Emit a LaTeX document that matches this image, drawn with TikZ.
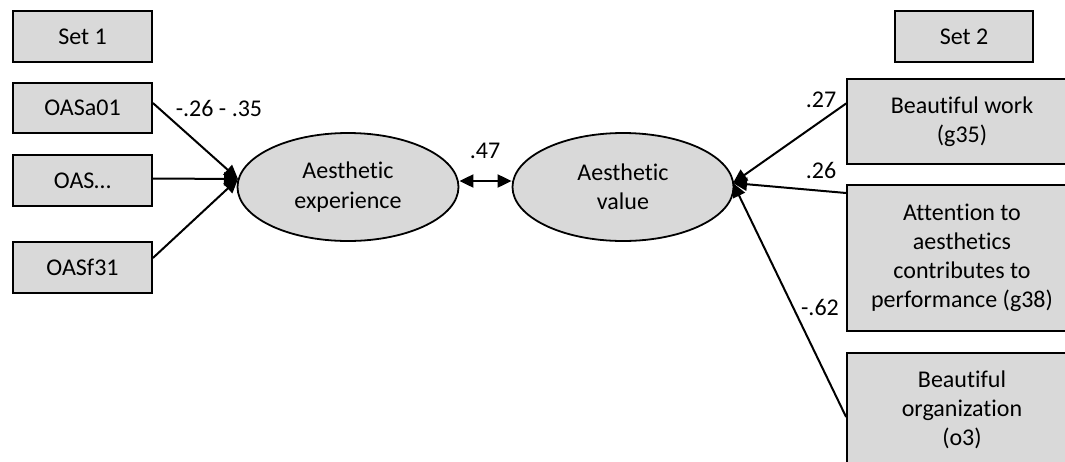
\documentclass[tikz,border=0pt]{standalone}
\usepackage{fontspec}
\setmainfont{Carlito}[RawFeature=-liga]
\usetikzlibrary{shapes.geometric,arrows.meta}
\definecolor{boxgray}{HTML}{D9D9D9}
\begin{document}
\begin{tikzpicture}[x=0.5pt,y=-0.5pt,
  every node/.style={font=\fontsize{12}{14.6}\selectfont, inner sep=0pt},
  varbox/.style={draw, line width=0.9pt, fill=boxgray, rectangle, align=center, minimum width=69.5pt},
  rbox/.style={draw, line width=0.9pt, fill=boxgray, rectangle, align=center, minimum width=115pt},
  latent/.style={draw, line width=0.9pt, fill=boxgray, ellipse, align=center, minimum width=110.5pt, minimum height=54pt},
  conn/.style={line width=1pt, -{Triangle[length=7pt,width=6.5pt]}},
  biconn/.style={line width=1pt, {Triangle[length=7pt,width=6.5pt]}-{Triangle[length=7pt,width=6.5pt]}},
  lbl/.style={font=\fontsize{12}{14.6}\selectfont}
]
\useasboundingbox (0,0) rectangle (1065,461);
\clip (0,0) rectangle (1065,461);

% left side
\node[varbox, minimum height=25.5pt] (set1) at (82.5,36.5) {Set 1};
\node[varbox, minimum height=25pt] (oasa) at (82.5,108) {OASa01};
\node[varbox, minimum height=25.5pt] (oasm) at (82.5,180.5) {OAS…};
\node[varbox, minimum height=25.5pt] (oasf) at (82.5,267.5) {OASf31};

% latent variables
\node[latent] (ae) at (348,187) {Aesthetic\\experience};
\node[latent] (av) at (623,187) {Aesthetic\\value};

% right side
\node[varbox, minimum width=69pt, minimum height=25.5pt] (set2) at (964,36.5) {Set 2};
\node[rbox, minimum height=42.5pt] (bw) at (962,121.5) {Beautiful work\\(g35)};
\node[rbox, minimum height=73pt] (att) at (962,258) {Attention to\\aesthetics\\contributes to\\performance (g38)};
\node[rbox, minimum height=57pt] (org) at (962,410) {Beautiful\\organization\\(o3)};

% connector endpoints
\coordinate (tipL) at (238,179);
\coordinate (tipR) at (733,183);

\draw[conn] ([yshift=2.5pt]oasa.east) -- (tipL);
\draw[conn] ([yshift=1pt]oasm.east) -- (tipL);
\draw[conn] ([yshift=4.75pt]oasf.east) -- (tipL);

\draw[conn] ([yshift=9pt]bw.west) -- (tipR);
\draw[conn] ([yshift=32.5pt]att.west) -- (tipR);
\draw[conn] ([yshift=-3.5pt]org.west) -- (tipR);

\draw[biconn] ([yshift=3pt]ae.east) -- ([yshift=3pt]av.west);

% labels
\node[lbl] (l1) at (219,108) {-.26 - .35};
\node[lbl] (l47) at (485,151) {.47};
\node[lbl] (l27) at (821,100) {.27};
\node[lbl] (l26) at (821,170) {.26};
\node[lbl] (l62) at (820,307) {-.62};
\end{tikzpicture}
\end{document}
